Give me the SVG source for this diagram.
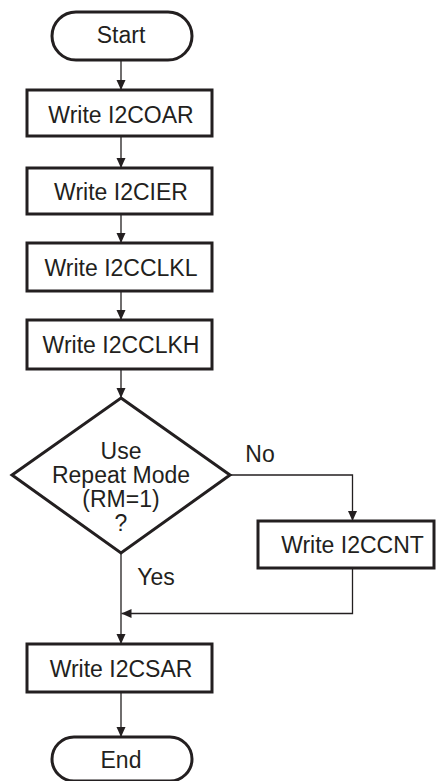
<svg xmlns="http://www.w3.org/2000/svg" width="436" height="781" viewBox="0 0 436 781">
  <style>
    .shape { fill: #ffffff; stroke: #231f20; stroke-width: 3; }
    .lbl { font-family: "Liberation Sans", Arial, sans-serif; font-size: 23px; fill: #231f20; text-anchor: middle; }
    .wire { fill: none; stroke: #231f20; stroke-width: 1.3; }
  </style>
  <defs>
    <marker id="arrow" markerWidth="10" markerHeight="10" refX="10" refY="5" orient="auto" markerUnits="userSpaceOnUse">
      <path d="M0,0.5 L10,5 L0,9.5 Z" fill="#231f20"/>
    </marker>
  </defs>
  <rect width="436" height="781" fill="#ffffff"/>

  <!-- connectors -->
  <g id="connectors">
    <path class="wire" d="M121,60 V90" marker-end="url(#arrow)"/>
    <path class="wire" d="M121,136 V168" marker-end="url(#arrow)"/>
    <path class="wire" d="M121,214 V243" marker-end="url(#arrow)"/>
    <path class="wire" d="M121,291 V320" marker-end="url(#arrow)"/>
    <path class="wire" d="M121,369 V398" marker-end="url(#arrow)"/>
    <path class="wire" d="M230,475 H352.5 V521" marker-end="url(#arrow)"/>
    <path class="wire" d="M121,553 V644" marker-end="url(#arrow)"/>
    <path class="wire" d="M352.5,568 V613.5 H121.5" marker-end="url(#arrow)"/>
    <path class="wire" d="M121,692 V737" marker-end="url(#arrow)"/>
    <text class="lbl" x="260" y="462">No</text>
    <text class="lbl" x="156" y="585">Yes</text>
  </g>

  <g id="start">
    <rect class="shape" x="52" y="12" width="140" height="48" rx="24" ry="24"/>
    <text class="lbl" x="121" y="43">Start</text>
  </g>

  <g id="write-i2coar">
    <rect class="shape" x="27" y="90" width="185" height="46"/>
    <text class="lbl" x="121" y="123">Write I2COAR</text>
  </g>

  <g id="write-i2cier">
    <rect class="shape" x="27" y="168" width="185" height="46"/>
    <text class="lbl" x="121" y="200">Write I2CIER</text>
  </g>

  <g id="write-i2cclkl">
    <rect class="shape" x="27" y="243" width="185" height="48"/>
    <text class="lbl" x="121" y="276">Write I2CCLKL</text>
  </g>

  <g id="write-i2cclkh">
    <rect class="shape" x="27" y="320" width="185" height="49"/>
    <text class="lbl" x="121" y="353">Write I2CCLKH</text>
  </g>

  <g id="repeat-mode">
    <polygon class="shape" points="121,398 230,475 121,553 12,475"/>
    <text class="lbl" x="121" y="459">Use</text>
    <text class="lbl" x="121" y="483">Repeat Mode</text>
    <text class="lbl" x="121" y="507">(RM=1)</text>
    <text class="lbl" x="121" y="531">?</text>
  </g>

  <g id="write-i2ccnt">
    <rect class="shape" x="258" y="521" width="176" height="47"/>
    <text class="lbl" x="352.5" y="553">Write I2CCNT</text>
  </g>

  <g id="write-i2csar">
    <rect class="shape" x="27" y="644" width="185" height="48"/>
    <text class="lbl" x="121" y="677">Write I2CSAR</text>
  </g>

  <g id="end">
    <rect class="shape" x="52" y="737" width="140" height="44" rx="22" ry="22"/>
    <text class="lbl" x="121" y="768">End</text>
  </g>
</svg>
